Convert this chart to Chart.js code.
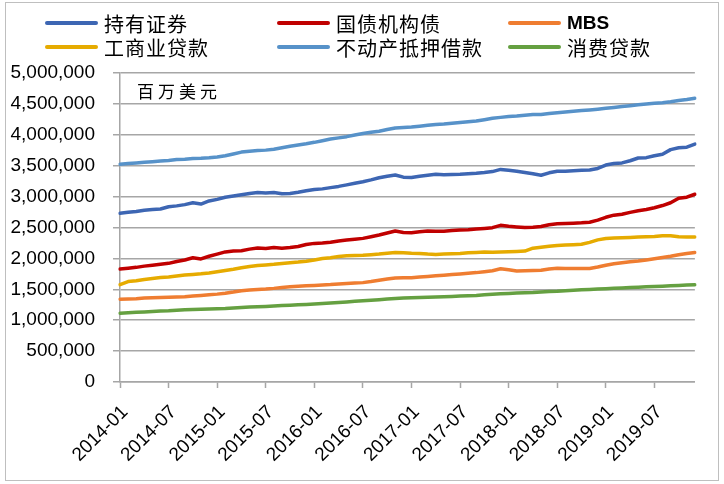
<!DOCTYPE html>
<html>
<head>
<meta charset="utf-8">
<script src="https://cdn.jsdelivr.net/npm/chart.js@4.4.1/dist/chart.umd.min.js"></script>
<style>
  html, body { margin: 0; padding: 0; background: #fff; }
  #wrap { position: relative; width: 724px; height: 484px; overflow: hidden; }
  #frame { position: absolute; left: 5px; top: 2px; width: 714px; height: 479px; border: 1px solid #bfbfbf; box-sizing: border-box; }
  #chart { position: absolute; left: 0; top: 0; }
  #legend { position: absolute; left: 0; top: 0; width: 724px; height: 60px; }
  .item { position: absolute; height: 24px; display: flex; align-items: center; }
  .item .swatch { width: 53px; height: 4px; border-radius: 2px; margin-right: 6px; }
  .item .txt { font: 20px "Noto Sans CJK SC", sans-serif; letter-spacing: 1px; color: #000; white-space: nowrap; }
  .item .txt.latin { font: bold 19px "Liberation Sans", Arial, sans-serif; letter-spacing: 0; }
  #unit { position: absolute; left: 137px; top: 78px; font: 17px "Noto Sans CJK SC", sans-serif; letter-spacing: 4px; color: #000; }
</style>
</head>
<body>
<div id="wrap">
  <div id="frame"></div>
  <canvas id="chart" width="724" height="484"></canvas>
  <div id="legend"></div>
  <div id="unit">百万美元</div>
</div>
<script>
  // monthly, 2014-01 .. 2019-12 (百万美元)
  var months = [
    "2014-01","2014-02","2014-03","2014-04","2014-05","2014-06","2014-07","2014-08","2014-09","2014-10","2014-11","2014-12",
    "2015-01","2015-02","2015-03","2015-04","2015-05","2015-06","2015-07","2015-08","2015-09","2015-10","2015-11","2015-12",
    "2016-01","2016-02","2016-03","2016-04","2016-05","2016-06","2016-07","2016-08","2016-09","2016-10","2016-11","2016-12",
    "2017-01","2017-02","2017-03","2017-04","2017-05","2017-06","2017-07","2017-08","2017-09","2017-10","2017-11","2017-12",
    "2018-01","2018-02","2018-03","2018-04","2018-05","2018-06","2018-07","2018-08","2018-09","2018-10","2018-11","2018-12",
    "2019-01","2019-02","2019-03","2019-04","2019-05","2019-06","2019-07","2019-08","2019-09","2019-10","2019-11","2019-12"
  ];
  var tickMonths = ["2014-01","2014-07","2015-01","2015-07","2016-01","2016-07","2017-01","2017-07","2018-01","2018-07","2019-01","2019-07"];
  var yTicks = [0, 500000, 1000000, 1500000, 2000000, 2500000, 3000000, 3500000, 4000000, 4500000, 5000000];

  var securities = [
    2730000,2745000,2760000,2780000,2790000,2800000,2835000,2850000,2870000,2900000,2880000,2930000,
    2955000,2990000,3010000,3030000,3050000,3065000,3060000,3065000,3045000,3050000,3070000,3095000,
    3115000,3125000,3145000,3165000,3190000,3215000,3240000,3270000,3305000,3330000,3350000,3315000,
    3310000,3330000,3345000,3360000,3352000,3358000,3362000,3370000,3378000,3390000,3405000,3440000,
    3425000,3410000,3390000,3370000,3346000,3385000,3410000,3412000,3420000,3425000,3430000,3455000,
    3510000,3535000,3545000,3580000,3625000,3630000,3660000,3685000,3760000,3790000,3800000,3849000
  ];
  var treasuries = [
    1827000,1840000,1855000,1875000,1890000,1905000,1920000,1950000,1975000,2010000,1992000,2035000,
    2070000,2105000,2118000,2125000,2150000,2168000,2160000,2178000,2165000,2175000,2192000,2225000,
    2243000,2250000,2260000,2280000,2297000,2310000,2324000,2350000,2378000,2410000,2443000,2420000,
    2415000,2430000,2443000,2440000,2440000,2450000,2459000,2465000,2475000,2485000,2497000,2535000,
    2520000,2510000,2500000,2505000,2515000,2545000,2560000,2565000,2570000,2575000,2585000,2620000,
    2665000,2700000,2715000,2745000,2770000,2790000,2820000,2855000,2900000,2975000,2990000,3038000
  ];
  var mbs = [
    1338000,1342000,1348000,1358000,1362000,1366000,1370000,1375000,1378000,1390000,1400000,1412000,
    1422000,1435000,1455000,1478000,1488000,1498000,1505000,1515000,1528000,1540000,1549000,1556000,
    1562000,1570000,1576000,1585000,1592000,1600000,1608000,1625000,1646000,1665000,1684000,1686000,
    1688000,1698000,1708000,1718000,1727000,1738000,1748000,1760000,1770000,1785000,1800000,1832000,
    1815000,1797000,1800000,1805000,1808000,1830000,1840000,1838000,1836000,1835000,1838000,1860000,
    1890000,1912000,1930000,1945000,1957000,1975000,1995000,2015000,2035000,2060000,2080000,2097000
  ];
  var ciLoans = [
    1576000,1625000,1640000,1660000,1675000,1690000,1700000,1715000,1730000,1740000,1750000,1765000,
    1785000,1805000,1825000,1850000,1868000,1885000,1895000,1905000,1918000,1930000,1940000,1955000,
    1975000,1998000,2012000,2030000,2043000,2048000,2052000,2060000,2070000,2085000,2097000,2090000,
    2082000,2080000,2070000,2065000,2070000,2075000,2080000,2090000,2097000,2102000,2100000,2105000,
    2108000,2112000,2118000,2165000,2180000,2195000,2210000,2215000,2222000,2228000,2260000,2300000,
    2322000,2330000,2335000,2340000,2345000,2350000,2355000,2365000,2368000,2350000,2345000,2346000
  ];
  var realEstate = [
    3525000,3535000,3545000,3555000,3565000,3575000,3585000,3600000,3605000,3615000,3620000,3628000,
    3640000,3660000,3690000,3720000,3735000,3745000,3752000,3765000,3790000,3815000,3835000,3855000,
    3878000,3905000,3932000,3950000,3970000,3998000,4020000,4040000,4058000,4085000,4110000,4118000,
    4125000,4140000,4155000,4168000,4176000,4188000,4200000,4212000,4224000,4245000,4268000,4282000,
    4295000,4305000,4318000,4328000,4330000,4345000,4358000,4368000,4380000,4392000,4403000,4415000,
    4428000,4442000,4457000,4470000,4485000,4498000,4510000,4520000,4535000,4555000,4572000,4592000
  ];
  var consumer = [
    1114000,1120000,1127000,1133000,1140000,1147000,1153000,1162000,1168000,1172000,1176000,1180000,
    1185000,1190000,1198000,1206000,1212000,1218000,1222000,1228000,1236000,1243000,1250000,1256000,
    1262000,1270000,1278000,1286000,1295000,1305000,1314000,1322000,1332000,1342000,1352000,1360000,
    1364000,1368000,1372000,1376000,1380000,1385000,1390000,1395000,1400000,1410000,1420000,1428000,
    1434000,1440000,1445000,1450000,1458000,1465000,1470000,1478000,1485000,1492000,1498000,1505000,
    1510000,1516000,1522000,1528000,1534000,1540000,1545000,1550000,1556000,1562000,1568000,1573000
  ];

  var seriesNames = ["持有证券", "国债机构债", "MBS", "工商业贷款", "不动产抵押借款", "消费贷款"];
  var seriesColors = ["#3d66b3", "#c00000", "#ef7d31", "#e6ab00", "#5792c9", "#65a041"];
  var seriesData = [securities, treasuries, mbs, ciLoans, realEstate, consumer];

  var datasets = seriesData.map(function (d, i) {
    return {
      label: seriesNames[i],
      data: d,
      borderColor: seriesColors[i],
      backgroundColor: seriesColors[i],
      borderWidth: 3.5,
      pointRadius: 0,
      tension: 0,
      borderCapStyle: "round",
      borderJoinStyle: "round"
    };
  });

  var tickFont = { family: "'Liberation Sans', Arial, sans-serif", size: 19 };

  var chart = new Chart(document.getElementById("chart").getContext("2d"), {
    type: "line",
    data: { labels: months, datasets: datasets },
    options: {
      responsive: false,
      animation: false,
      events: [],
      layout: { padding: { left: 0, right: 27, top: 73, bottom: 0 } },
      plugins: { legend: { display: false }, tooltip: { enabled: false } },
      scales: {
        x: {
          type: "category",
          offset: false,
          border: { color: "#a6a6a6", width: 1.5 },
          grid: {
            drawOnChartArea: false,
            drawTicks: true,
            tickLength: 6,
            tickWidth: 1.5,
            tickColor: function (ctx) {
              return tickMonths.indexOf(months[ctx.index]) >= 0 ? "#a6a6a6" : "rgba(0,0,0,0)";
            }
          },
          ticks: {
            autoSkip: false,
            minRotation: 45,
            maxRotation: 45,
            padding: 13,
            labelOffset: 5,
            color: "#000",
            font: tickFont,
            callback: function (v, i) {
              return tickMonths.indexOf(months[i]) >= 0 ? months[i] : "";
            }
          },
          afterFit: function (scale) { scale.height = 102; }
        },
        y: {
          min: 0,
          max: 5000000,
          border: { color: "#a6a6a6", width: 1.5 },
          grid: { color: "#a6a6a6", lineWidth: 1.5, tickLength: 7, drawTicks: true },
          afterBuildTicks: function (scale) {
            scale.ticks = yTicks.map(function (v) { return { value: v }; });
          },
          ticks: {
            padding: 18,
            color: "#000",
            font: tickFont,
            callback: function (v) { return Number(v).toLocaleString("en-US"); }
          },
          afterFit: function (scale) { scale.width = 120; }
        }
      }
    }
  });

  // legend in 3 fixed columns, like the original
  var legendEl = document.getElementById("legend");
  var colX = [45, 277, 508];
  var rowY = [11, 35];
  chart.data.datasets.forEach(function (ds, i) {
    var item = document.createElement("div");
    item.className = "item";
    item.style.left = colX[i % 3] + "px";
    item.style.top = rowY[Math.floor(i / 3)] + "px";
    var sw = document.createElement("span");
    sw.className = "swatch";
    sw.style.background = ds.borderColor;
    var tx = document.createElement("span");
    tx.className = /^[A-Za-z]+$/.test(ds.label) ? "txt latin" : "txt";
    tx.textContent = ds.label;
    item.appendChild(sw);
    item.appendChild(tx);
    legendEl.appendChild(item);
  });
</script>
</body>
</html>
